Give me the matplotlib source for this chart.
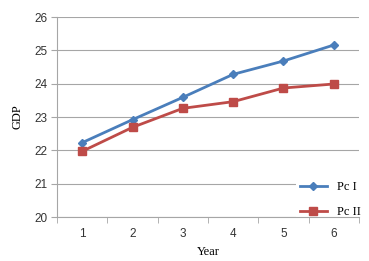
import matplotlib.pyplot as plt

# data
years = [1, 2, 3, 4, 5, 6]
pc1 = [22.23, 22.92, 23.59, 24.28, 24.68, 25.16]
pc2 = [21.97, 22.69, 23.26, 23.46, 23.87, 23.99]
yticks = [20, 21, 22, 23, 24, 25, 26]

blue = '#4a7ebb'
red = '#be4b48'
grid_c = '#a6a6a6'

fig = plt.figure(figsize=(3.69, 2.61), dpi=100)
ax = fig.add_axes([57 / 369, 44 / 261, 302 / 369, 200 / 261])

ax.plot(years, pc1, color=blue, lw=2, marker='D', ms=4.5, label='Pc I', zorder=3)
ax.plot(years, pc2, color=red, lw=2, marker='s', ms=6, label='Pc II', zorder=3)

ax.set_xlim(0.5, 6.5)
ax.set_ylim(20, 26)
ax.set_yticks(yticks)
ax.set_xticks(years)
ax.set_xticks([0.5 + i for i in range(7)], minor=True)
ax.tick_params(axis='x', which='major', length=0, pad=8, labelsize=8.5, colors='#333333')
ax.tick_params(axis='x', which='minor', length=4, color=grid_c)
ax.tick_params(axis='y', length=4, color=grid_c, labelsize=8.5, labelcolor='#333333', pad=3)
for lab in ax.get_xticklabels() + ax.get_yticklabels():
    lab.set_family('Liberation Sans')

ax.grid(axis='y', color=grid_c, lw=0.8)
ax.set_axisbelow(True)
for s in ['top', 'right']:
    ax.spines[s].set_visible(False)
for s in ['left', 'bottom']:
    ax.spines[s].set_color(grid_c)
    ax.spines[s].set_linewidth(0.8)
    ax.spines[s].set_zorder(6)
# x ticks above the legend box, y grid below it
ax.xaxis.set_zorder(6)

ax.set_xlabel('Year', family='Liberation Serif', fontsize=9, labelpad=4)
ax.set_ylabel('GDP', family='Liberation Serif', fontsize=9, labelpad=8)

leg = ax.legend(loc='lower right', bbox_to_anchor=(1.04, -0.055), frameon=True,
                prop={'family': 'Liberation Serif', 'size': 9},
                handlelength=2.2, labelspacing=1.0, borderpad=0.3)
leg.get_frame().set_facecolor('white')
leg.get_frame().set_edgecolor('none')
leg.get_frame().set_alpha(1)

plt.savefig('out.png', dpi=100)
